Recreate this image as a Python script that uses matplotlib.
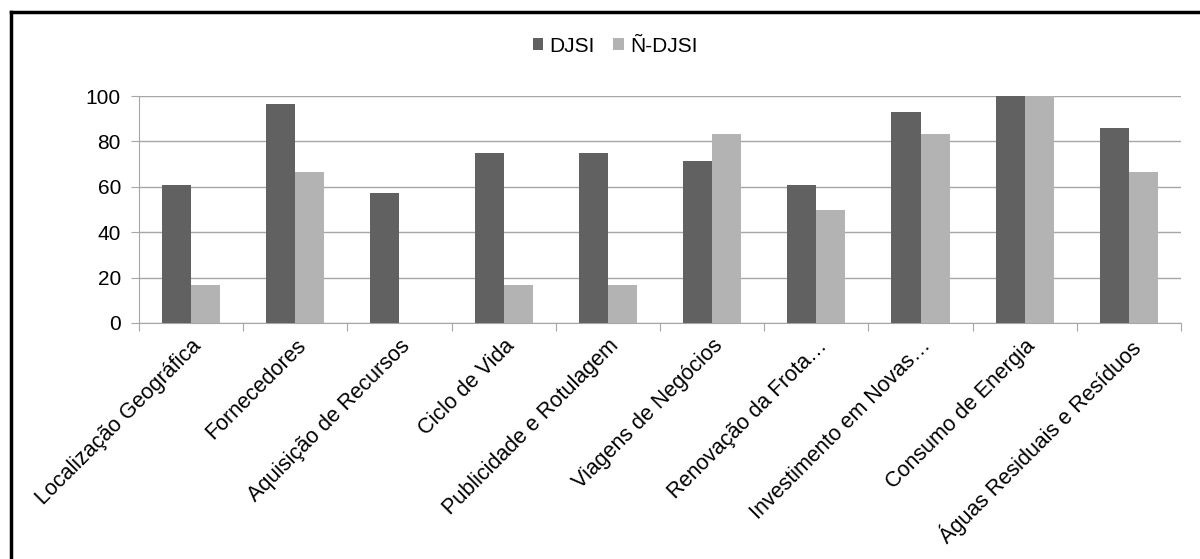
import numpy as np
import matplotlib.pyplot as plt
from matplotlib.lines import Line2D

plt.rcParams['font.family'] = ['Liberation Sans', 'DejaVu Sans']

categories = [
    "Localização Geográfica", "Fornecedores", "Aquisição de Recursos",
    "Ciclo de Vida", "Publicidade e Rotulagem", "Viagens de Negócios",
    "Renovação da Frota…", "Investimento em Novas…", "Consumo de Energia",
    "Águas Residuais e Resíduos",
]
djsi = [60.7, 96.4, 57.1, 75.0, 75.0, 71.4, 60.7, 92.9, 100.0, 85.7]
n_djsi = [16.7, 66.7, 0.0, 16.7, 16.7, 83.3, 50.0, 83.3, 100.0, 66.7]
series_names = ["DJSI", "Ñ-DJSI"]

dark = "#616161"
light = "#b3b3b3"
grid_col = "#a6a6a6"
fs = 15

fig = plt.figure(figsize=(12, 5.59), dpi=100)
ax = fig.add_axes([139 / 1200, 1 - 323 / 559, (1181 - 139) / 1200, (323 - 96) / 559])

x = np.arange(len(categories))
w = 0.28
ax.bar(x - w / 2, djsi, w, color=dark, label=series_names[0], zorder=3)
ax.bar(x + w / 2, n_djsi, w, color=light, label=series_names[1], zorder=3)

ax.set_xlim(-0.5, len(categories) - 0.5)
ax.set_ylim(0, 100)
ax.set_yticks(range(0, 101, 20))
ax.yaxis.grid(True, color=grid_col, linewidth=1, zorder=0)
ax.set_axisbelow(True)

for s in ["top", "right"]:
    ax.spines[s].set_visible(False)
ax.spines["left"].set_color(grid_col)
ax.spines["bottom"].set_color(grid_col)

# category ticks sit between groups, labels at group centres
ax.set_xticks(np.arange(-0.5, len(categories)), minor=False)
ax.set_xticklabels([])
ax.set_xticks(x, minor=True)
ax.set_xticklabels(categories, minor=True, rotation=45, ha="right",
                   rotation_mode="anchor", fontsize=15.5)
ax.tick_params(axis="x", which="major", length=6, color=grid_col)
ax.tick_params(axis="x", which="minor", length=0, pad=9)
ax.tick_params(axis="y", length=6, color=grid_col, labelsize=fs, pad=7)

fig.legend(loc="center", bbox_to_anchor=(615 / 1200, 1 - 46 / 559), ncol=2,
           frameon=False, fontsize=fs, handlelength=0.5, handleheight=0.5,
           handletextpad=0.3, columnspacing=0.9)

# frame along the top and left edges
fig.add_artist(Line2D([11 / 1200, 1], [1 - 12 / 559, 1 - 12 / 559],
                      transform=fig.transFigure, color="black", linewidth=2.5))
fig.add_artist(Line2D([11 / 1200, 11 / 1200], [0, 1 - 12 / 559],
                      transform=fig.transFigure, color="black", linewidth=2.5))

fig.savefig("out.png", dpi=100)
